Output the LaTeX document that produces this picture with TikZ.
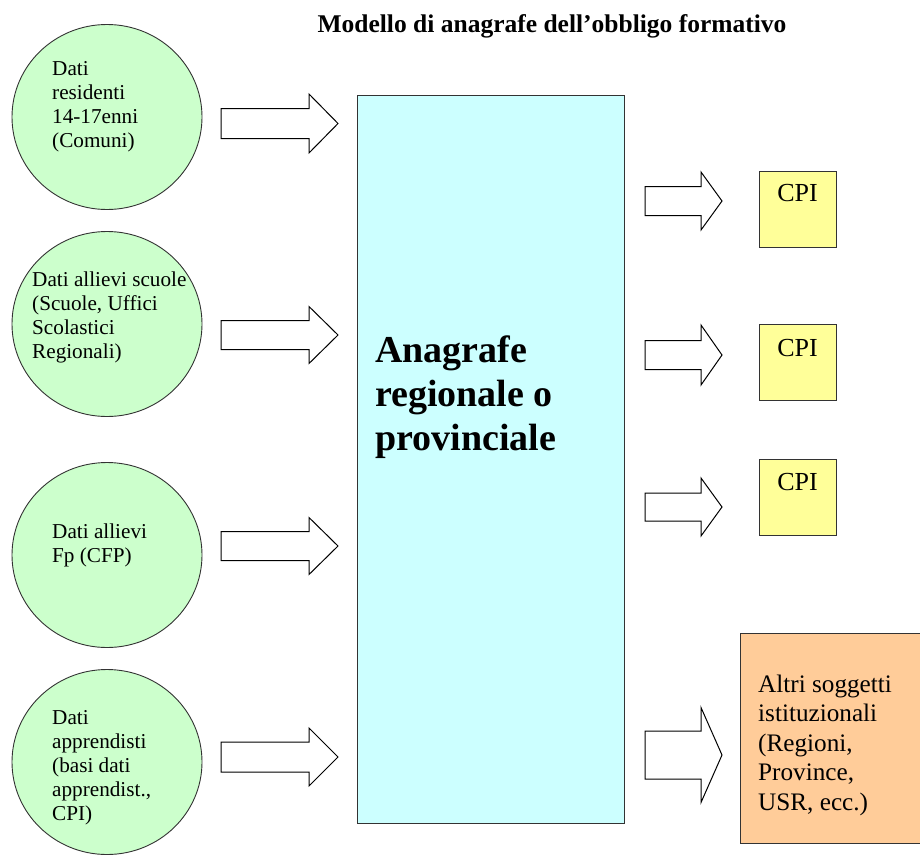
\documentclass[tikz,border=0pt]{standalone}
\usepackage{fontspec}
\setmainfont{Liberation Serif}
\usetikzlibrary{shapes.geometric}
\definecolor{cgreen}{HTML}{CCFFCC}
\definecolor{ccyan}{HTML}{CCFFFF}
\definecolor{cyell}{HTML}{FFFF99}
\definecolor{corange}{HTML}{FFCC99}
\definecolor{cline}{HTML}{333333}
\newcommand\blockarrow[6]{%
  \draw[barrow] (#1,#2-#5) -- (#1+#3,#2-#5) -- (#1+#3,#2-#6) -- (#1+#4,#2)
    -- (#1+#3,#2+#6) -- (#1+#3,#2+#5) -- (#1,#2+#5) -- cycle;}
\begin{document}
\begin{tikzpicture}[x=1pt,y=-1pt,
  src/.style={ellipse,draw=cline,line width=0.9pt,fill=cgreen,minimum width=190pt,minimum height=185pt,inner sep=0pt},
  srctext/.style={anchor=base west,align=left,inner sep=0pt,font=\fontsize{21.2}{23.8}\selectfont},
  barrow/.style={draw=black,line width=1pt,fill=white,line join=miter},
  bigbox/.style={draw=cline,line width=1pt,fill=ccyan},
  cpi/.style={draw=cline,line width=1pt,fill=cyell,minimum width=77pt,minimum height=76pt,inner sep=0pt},
  cpitext/.style={anchor=base,inner sep=0pt,font=\fontsize{26}{30}\selectfont},
  other/.style={draw=cline,line width=1pt,fill=corange}]
\useasboundingbox (0,0) rectangle (920,854);
% title
\node[anchor=base,inner sep=0pt,font=\bfseries\fontsize{25.5}{30}\selectfont] (title) at (552,32) {Modello di anagrafe dell’obbligo formativo};
% sources
\node[src] (c1) at (107,117) {};
\node[src] (c2) at (107,324) {};
\node[src] (c3) at (107,555) {};
\node[src] (c4) at (107,762) {};
% (base anchor of a multi-line node = baseline of its last line)
\node[srctext] (t1) at (52,147) {Dati\\residenti\\14-17enni\\(Comuni)};
\node[srctext] (t2) at (32,358) {Dati allievi scuole\\(Scuole, Uffici\\Scolastici\\Regionali)};
\node[srctext] (t3) at (52,562) {Dati allievi\\Fp (CFP)};
\node[srctext] (t4) at (52,820) {Dati\\apprendisti\\(basi dati\\apprendist.,\\CPI)};
% central box
\draw[bigbox] (357,95) rectangle (624,823);
\node[anchor=base west,align=left,inner sep=0pt,font=\bfseries\fontsize{38}{44}\selectfont] (ana) at (375,450) {Anagrafe\\regionale o\\provinciale};
% input arrows
\blockarrow{221}{123.5}{88}{117}{15}{29.5}
\blockarrow{221}{335}{88}{117}{14.5}{28.5}
\blockarrow{221}{546}{88}{117}{14.5}{28.5}
\blockarrow{221}{757}{88}{117}{15}{29}
% output arrows
\blockarrow{645}{201}{56}{77}{14.5}{29}
\blockarrow{645}{355}{56}{77}{14.5}{30}
\blockarrow{645}{507}{56}{77}{14}{29}
\blockarrow{645}{755}{56}{77}{24}{47.5}
% CPI boxes
\node[cpi] (p1) at (797.5,209.5) {};
\node[cpi] (p2) at (797.5,362) {};
\node[cpi] (p3) at (797.5,497.5) {};
\node[cpitext] (p1t) at ([yshift=-30pt]p1.north) {CPI};
\node[cpitext] (p2t) at ([yshift=-33pt]p2.north) {CPI};
\node[cpitext] (p3t) at ([yshift=-31pt]p3.north) {CPI};
% other
\draw[other] (740,633) rectangle (922,843);
\node[anchor=base west,align=left,inner sep=0pt,font=\fontsize{25.2}{29.5}\selectfont] (ot) at (758,810) {Altri soggetti\\istituzionali\\(Regioni,\\Province,\\USR, ecc.)};
\end{tikzpicture}
\end{document}
